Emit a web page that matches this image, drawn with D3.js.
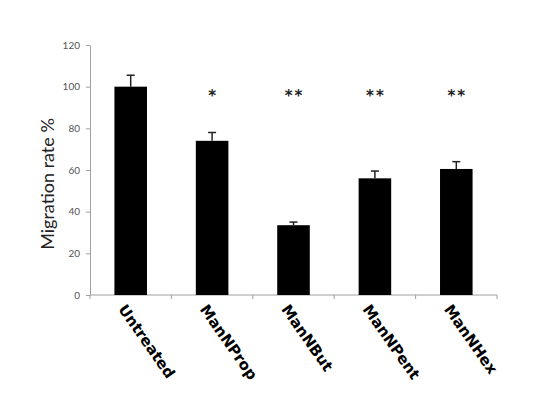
<!DOCTYPE html>
<html><head><meta charset="utf-8">
<script src="https://cdn.jsdelivr.net/npm/d3@7"></script>
<style>body{margin:0;background:#fff;}</style>
</head><body>
<svg id="c" width="550" height="406"></svg>
<script>
const categories = ["Untreated","ManNProp","ManNBut","ManNPent","ManNHex"];
const values = [100, 74, 33.5, 56, 60.5];
const errors = [5.5, 4, 1.5, 3.5, 3.5];
const stars = ["", "*", "**", "**", "**"];
const yTicks = [0,20,40,60,80,100,120];

const svg = d3.select("#c");
const x = d3.scaleBand().domain(categories).range([90,497]).paddingInner(0.6).paddingOuter(0.3);
const y = d3.scaleLinear().domain([0,120]).range([295,45]);

const ya = svg.append("g").attr("transform","translate(90,0)")
  .call(d3.axisLeft(y).tickValues(yTicks).tickSize(4).tickSizeOuter(0).tickPadding(6));
ya.selectAll("path,line").attr("stroke","#a0a0a0");
ya.selectAll("text").attr("fill","#555").style("font-family","Lato, 'Open Sans', sans-serif").style("font-size","10px");

const xa = svg.append("g").attr("transform","translate(0,295)");
xa.append("line").attr("x1",90).attr("x2",497).attr("y1",0).attr("y2",0).attr("stroke","#a0a0a0");
const bounds = d3.range(categories.length+1).map(i=>90+i*(407/5));
xa.selectAll("line.t").data(bounds).enter().append("line")
  .attr("x1",d=>d).attr("x2",d=>d).attr("y1",0).attr("y2",4).attr("stroke","#a0a0a0");

const data = categories.map((c,i)=>({c, v:values[i], e:errors[i], s:stars[i]}));
svg.selectAll("rect.bar").data(data).enter().append("rect")
  .attr("x",d=>x(d.c)).attr("width",x.bandwidth())
  .attr("y",d=>y(d.v)).attr("height",d=>y(0)-y(d.v)).attr("fill","#000");

const eb = svg.selectAll("g.err").data(data).enter().append("g");
eb.append("line").attr("x1",d=>x(d.c)+x.bandwidth()/2).attr("x2",d=>x(d.c)+x.bandwidth()/2)
  .attr("y1",d=>y(d.v)).attr("y2",d=>y(d.v+d.e)).attr("stroke","#222").attr("stroke-width",1.5);
eb.append("line").attr("x1",d=>x(d.c)+x.bandwidth()/2-4).attr("x2",d=>x(d.c)+x.bandwidth()/2+4)
  .attr("y1",d=>y(d.v+d.e)).attr("y2",d=>y(d.v+d.e)).attr("stroke","#222").attr("stroke-width",1.5);

svg.selectAll("text.star").data(data).enter().append("text")
  .attr("x",d=>x(d.c)+x.bandwidth()/2+1).attr("y",101)
  .attr("text-anchor","middle").style("font-family","'DejaVu Sans', sans-serif").style("font-weight","bold").style("font-size","15px")
  .style("letter-spacing","2px").attr("fill","#222").text(d=>d.s);

svg.selectAll("text.xl").data(data).enter().append("text")
  .attr("transform",d=>`translate(${x(d.c)+x.bandwidth()/2-4},${303}) rotate(55)`)
  .attr("text-anchor","start").attr("dy","0.72em")
  .style("font-family","'DejaVu Sans', sans-serif").style("font-weight","bold").style("font-size","15px")
  .attr("fill","#000").text(d=>d.c);

svg.append("text").attr("transform","translate(48,184) rotate(-90)")
  .attr("text-anchor","middle").attr("dy","0.35em").style("font-family","Lato, 'Open Sans', sans-serif").style("font-size","18px")
  .attr("fill","#222").text("Migration rate %");
</script>
</body></html>
